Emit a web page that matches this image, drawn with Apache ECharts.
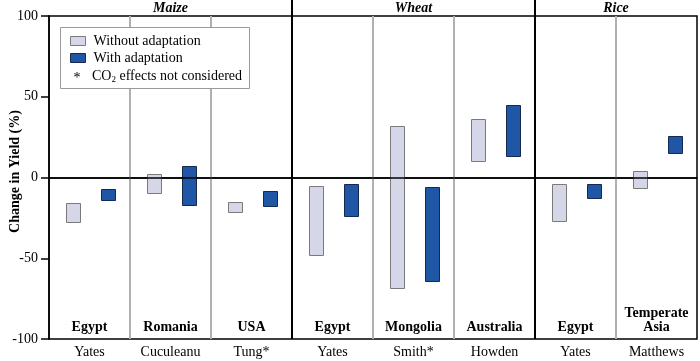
<!DOCTYPE html>
<html>
<head>
<meta charset="utf-8">
<script src="https://cdn.jsdelivr.net/npm/echarts@6/dist/echarts.min.js"></script>
<style>
html,body{margin:0;padding:0;background:#fff;}
#chart{width:700px;height:361px;}
</style>
</head>
<body>
<div id="chart"></div>
<script>
// ---- data ----
const countries = ['Egypt', 'Romania', 'USA', 'Egypt', 'Mongolia', 'Australia', 'Egypt', 'Temperate\nAsia'];
const authors = ['Yates', 'Cuculeanu', 'Tung*', 'Yates', 'Smith*', 'Howden', 'Yates', 'Matthews'];
const groupNames = ['Maize', 'Wheat', 'Rice'];
const groupStart = [0, 3, 6];
const groupEnd = [2, 5, 7];
const withoutLow = [-28, -10, -21, -48, -68, 10, -27, -6.5];
const withoutHigh = [-16, 2, -15, -5, 32, 36, -4, 4];
const withLow = [-14, -17, -17.5, -24, -64.5, 13.5, -12.5, 15.5];
const withHigh = [-7, 7, -8.5, -4, -6, 45, -4, 26];
const yTicks = [-100, -50, 0, 50, 100];
const minorSeparators = [1, 2, 4, 5, 7];

const FONT = '"Liberation Serif", "Times New Roman", serif';
const FS = 14;

function rangeData(lo, hi) { return lo.map((v, i) => [i, v, hi[i]]); }

function barRenderer(offsetFrac) {
  return function (params, api) {
    const idx = api.value(0);
    const lo = api.value(1), hi = api.value(2);
    const band = api.size([1, 0])[0];
    const pTop = api.coord([idx, hi]);
    const pBot = api.coord([idx, lo]);
    const w = band * 0.172;
    const cx = pTop[0] + band * offsetFrac;
    return {
      type: 'rect',
      shape: { x: Math.round(cx - w / 2) + 0.5, y: Math.round(pTop[1]) + 0.5, width: Math.round(w), height: Math.round(pBot[1] - pTop[1]) },
      style: api.style()
    };
  };
}

const chart = echarts.init(document.getElementById('chart'), null, { renderer: 'canvas' });

const option = {
  animation: false,
  backgroundColor: '#fff',
  grid: { left: 49, right: 3, top: 16, bottom: 22, containLabel: false, outerBoundsMode: 'none',
          show: true, borderColor: '#000', borderWidth: 1.5, backgroundColor: 'transparent' },
  xAxis: [
    {
      type: 'category', data: authors, position: 'bottom',
      axisLine: { show: true, lineStyle: { color: '#000', width: 1.5 } },
      axisTick: { show: false },
      splitLine: { show: false },
      axisLabel: { margin: 6, fontFamily: FONT, fontSize: FS, color: '#000', interval: 0 }
    },
    {
      type: 'category', data: countries, position: 'bottom',
      axisLine: { show: false }, axisTick: { show: false }, splitLine: { show: false },
      axisLabel: { inside: true, margin: 5, fontFamily: FONT, fontSize: FS, fontWeight: 'bold', color: '#000', interval: 0, lineHeight: 14, align: 'center' }
    }
  ],
  yAxis: {
    type: 'value', min: yTicks[0], max: yTicks[yTicks.length - 1], interval: 50,
    name: 'Change in Yield (%)', nameLocation: 'middle', nameRotate: 90, nameGap: 27, nameMoveOverlap: false,
    nameTextStyle: { fontFamily: FONT, fontSize: FS, fontWeight: 'bold', color: '#000', padding: [0, 0, 0, 12] },
    axisLine: { show: true, lineStyle: { color: '#000', width: 1.5 } },
    axisTick: { show: true, length: 8, lineStyle: { color: '#000', width: 1.5 } },
    axisLabel: { margin: 11, fontFamily: FONT, fontSize: FS, color: '#000' },
    splitLine: { show: false }
  },
  legend: {
    orient: 'vertical', left: 70, top: 34, z: 20, padding: 0,
    itemWidth: 15, itemHeight: 9, itemGap: 3, selectedMode: false,
    textStyle: { fontFamily: FONT, fontSize: FS, color: '#000', padding: [0, 0, 0, 3] },
    data: [
      { name: 'Without adaptation', icon: 'rect', itemStyle: { color: '#d5d7e8', borderColor: '#7a7a7a', borderWidth: 1 } },
      { name: 'With adaptation', icon: 'rect', itemStyle: { color: '#1f56a5', borderColor: '#16284d', borderWidth: 1 } }
    ]
  },
  graphic: [
    { type: 'rect', z: 10, shape: { x: 60.5, y: 27.5, width: 189, height: 61 }, style: { fill: '#fff', stroke: '#9a9a9a', lineWidth: 1 } },
    { type: 'text', z: 20, x: 77, y: 78, style: { text: '*', font: FS + 'px ' + FONT, fill: '#000', align: 'center', verticalAlign: 'middle' } },
    { type: 'text', z: 20, x: 92, y: 76, style: {
        text: '{n|CO}{s|2}{n| effects not considered}', verticalAlign: 'middle', fill: '#000',
        rich: {
          n: { fontFamily: FONT, fontSize: FS, lineHeight: 17, verticalAlign: 'middle', fill: '#000' },
          s: { fontFamily: FONT, fontSize: 9, lineHeight: 17, verticalAlign: 'bottom', fill: '#000' }
        } } }
  ],
  series: [
    {
      name: 'minor separators', type: 'custom', silent: true, z: 1,
      data: minorSeparators.map(i => [i, 0]),
      encode: { x: 0, y: 1 },
      renderItem: function (params, api) {
        const idx = api.value(0);
        const band = api.size([1, 0])[0];
        const x = Math.round(api.coord([idx, 0])[0] - band / 2);
        const yT = api.coord([idx, yTicks[yTicks.length - 1]])[1];
        const yB = api.coord([idx, yTicks[0]])[1];
        return { type: 'line', shape: { x1: x, y1: yT, x2: x, y2: yB }, style: { stroke: '#b0b0b0', lineWidth: 2 } };
      }
    },
    {
      name: 'groups', type: 'custom', silent: true, clip: false, z: 1,
      data: groupStart.map((s, i) => [s, groupEnd[i]]),
      encode: { x: 0, y: 1 },
      renderItem: function (params, api) {
        const s = api.value(0), e = api.value(1);
        const band = api.size([1, 0])[0];
        const yT = api.coord([s, yTicks[yTicks.length - 1]])[1];
        const yB = api.coord([s, yTicks[0]])[1];
        const xs = api.coord([s, 0])[0], xe = api.coord([e, 0])[0];
        const children = [{
          type: 'text',
          style: { text: groupNames[params.dataIndex], x: (xs + xe) / 2, y: yT - 8, align: 'center', verticalAlign: 'middle',
                   font: 'italic bold ' + FS + 'px ' + FONT, fill: '#000' }
        }];
        if (params.dataIndex < groupNames.length - 1) {
          const xb = Math.round(xe + band / 2);
          children.push({ type: 'line', shape: { x1: xb, y1: 0, x2: xb, y2: yB }, style: { stroke: '#000', lineWidth: 2 } });
        }
        return { type: 'group', children: children };
      }
    },
    {
      name: 'Without adaptation', type: 'custom', z: 3,
      data: rangeData(withoutLow, withoutHigh),
      encode: { x: 0, y: [1, 2] },
      itemStyle: { color: '#d5d7e8', borderColor: '#7a7a7a', borderWidth: 1 },
      renderItem: barRenderer(-0.2),
      markLine: {
        silent: true, symbol: 'none', label: { show: false },
        lineStyle: { color: '#000', width: 1.5, type: 'solid' },
        data: [{ yAxis: 0 }]
      }
    },
    {
      name: 'With adaptation', type: 'custom', z: 3,
      data: rangeData(withLow, withHigh),
      encode: { x: 0, y: [1, 2] },
      itemStyle: { color: '#1f56a5', borderColor: '#16284d', borderWidth: 1 },
      renderItem: barRenderer(0.225)
    }
  ]
};
chart.setOption(option);
</script>
</body>
</html>
